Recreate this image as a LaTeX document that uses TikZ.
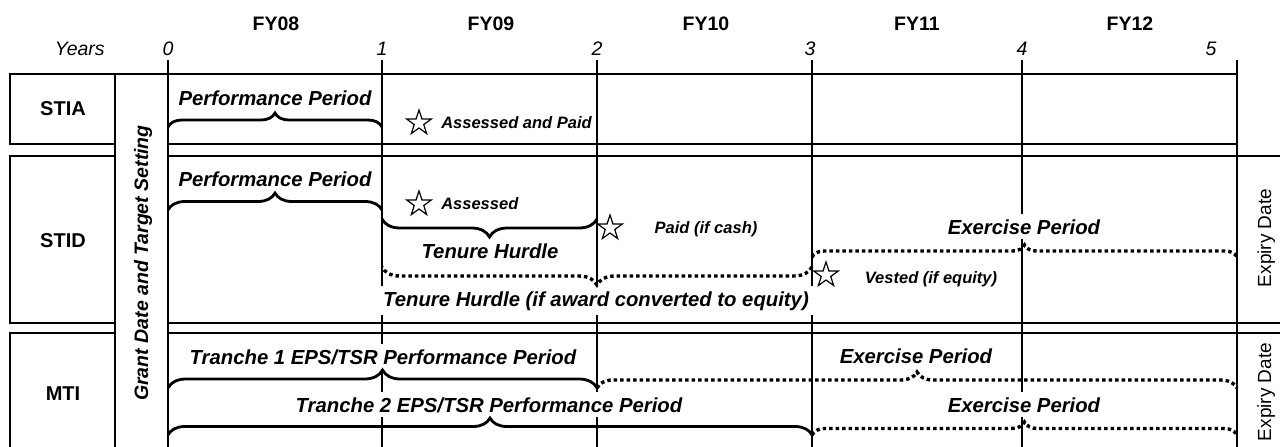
\documentclass[tikz,border=0pt]{standalone}
\usepackage{fontspec}
\setmainfont{Liberation Sans}
\usetikzlibrary{shapes.geometric,decorations.pathreplacing}

\begin{document}
\begin{tikzpicture}[x=1pt,y=-1pt,line width=2.6pt,
  fylbl/.style={font=\fontsize{19.5}{23}\selectfont\bfseries,anchor=base,inner sep=0pt},
  yearlbl/.style={font=\fontsize{19.5}{23}\selectfont\itshape,anchor=base,inner sep=0pt},
  rowlbl/.style={font=\fontsize{20}{24}\selectfont\bfseries,anchor=base,inner sep=0pt},
  periodlbl/.style={font=\fontsize{20.3}{24}\selectfont\bfseries\itshape,anchor=base,fill=white,inner sep=5pt},
  notelbl/.style={font=\fontsize{16.5}{20}\selectfont\bfseries\itshape,anchor=base west,inner sep=0pt},
  expirylbl/.style={font=\fontsize{19}{23}\selectfont,rotate=90,anchor=base,inner sep=0pt},
  awardstar/.style={star,star points=5,star point ratio=2.6,draw,line width=1.2pt,minimum size=26pt,inner sep=0pt},
  brc/.style={decorate,decoration={brace,amplitude=#1},line width=2.8pt},
  dotbrc/.style={decorate,decoration={brace,amplitude=#1},line width=3.4pt,dash pattern=on 3.5pt off 3pt}]
  \useasboundingbox (0,0) rectangle (1280,447);

  %% Header
  \node[fylbl] (fy08) at (276,30) {FY08};
  \node[fylbl] (fy09) at (491,30) {FY09};
  \node[fylbl] (fy10) at (706,30) {FY10};
  \node[fylbl] (fy11) at (917,30) {FY11};
  \node[fylbl] (fy12) at (1130,30) {FY12};
  \node[yearlbl,anchor=base east] (years) at (106,55) {Years};
  \node[yearlbl] (yr0) at (168,55) {0};
  \node[yearlbl] (yr1) at (382,55) {1};
  \node[yearlbl] (yr2) at (597,55) {2};
  \node[yearlbl] (yr3) at (810,55) {3};
  \node[yearlbl] (yr4) at (1022,55) {4};
  \node[yearlbl] (yr5) at (1211,55) {5};

  %% Row boxes
  \draw (10,74) rectangle (115,144);
  \draw (10,156) rectangle (115,323);
  \draw (10,333) rectangle (115,470);
  \node[rowlbl] (stia) at (63,115) {STIA};
  \node[rowlbl] (stid) at (63,247) {STID};
  \node[rowlbl] (mti) at (63,400) {MTI};

  %% Grant date column
  \draw (115,74) -- (115,470);
  \node[font=\fontsize{19.5}{23}\selectfont\bfseries\itshape,rotate=90,anchor=base,inner sep=0pt]
    (grant) at (148,263) {Grant Date and Target Setting};

  %% Timeline rows
  \draw (115,74) -- (1237,74);
  \draw (168,144) -- (1237,144);
  \draw (168,156) -- (1280,156);
  \draw (168,323) -- (1280,323);
  \draw (168,333) -- (1280,333);

  %% Year lines
  \draw (168,60) -- (168,470);
  \draw (382,60) -- (382,470);
  \draw (597,60) -- (597,470);
  \draw (812,60) -- (812,470);
  \draw (1022,60) -- (1022,470);
  \draw (1237,60) -- (1237,470);

  %% Expiry
  \node[expirylbl] (exp1) at (1271,238) {Expiry Date};
  \node[expirylbl] (exp2) at (1271,392) {Expiry Date};

  %% STIA
  \node[periodlbl] (perf1) at (275,105) {Performance Period};
  \node[awardstar] (star1) at (419,123) {};
  \node[notelbl] (paid1) at (440,128) {Assessed and Paid};
  \draw[brc=14pt] (168,127) -- (382,127);

  %% STID
  \node[periodlbl] (perf2) at (275,186) {Performance Period};
  \node[awardstar] (star2) at (419,204) {};
  \node[notelbl] (assess2) at (440,209) {Assessed};
  \node[awardstar] (star3) at (610,228) {};
  \node[notelbl,anchor=base] (cash2) at (706,233) {Paid (if cash)};
  \node[periodlbl] (tenure2) at (490,258) {Tenure Hurdle};
  \node[periodlbl] (tenure3) at (596,306) {Tenure Hurdle (if award converted to equity)};
  \node[periodlbl] (exer2) at (1024,234) {Exercise Period};
  \node[awardstar] (star4) at (826,275) {};
  \node[notelbl,anchor=base] (vest2) at (931,283) {Vested (if equity)};
  \draw[brc=17pt] (168,210) -- (382,210);
  \draw[brc=18pt] (597,219) -- (382,219);
  \draw[dotbrc=18pt] (812,267) -- (382,267);
  \draw[dotbrc=12pt] (812,257) -- (1237,257);

  %% MTI
  \node[periodlbl] (tr1) at (383,364) {Tranche 1 EPS/TSR Performance Period};
  \node[periodlbl] (exer3) at (916,363) {Exercise Period};
  \node[periodlbl] (tr2) at (489,412) {Tranche 2 EPS/TSR Performance Period};
  \node[periodlbl] (exer4) at (1024,412) {Exercise Period};
  \draw[brc=18pt] (168,388) -- (597,388);
  \draw[dotbrc=16pt] (597,388) -- (1237,388);
  \draw[brc=17pt] (168,435) -- (812,435);
  \draw[dotbrc=13pt] (812,435) -- (1237,435);

\end{tikzpicture}
\end{document}
